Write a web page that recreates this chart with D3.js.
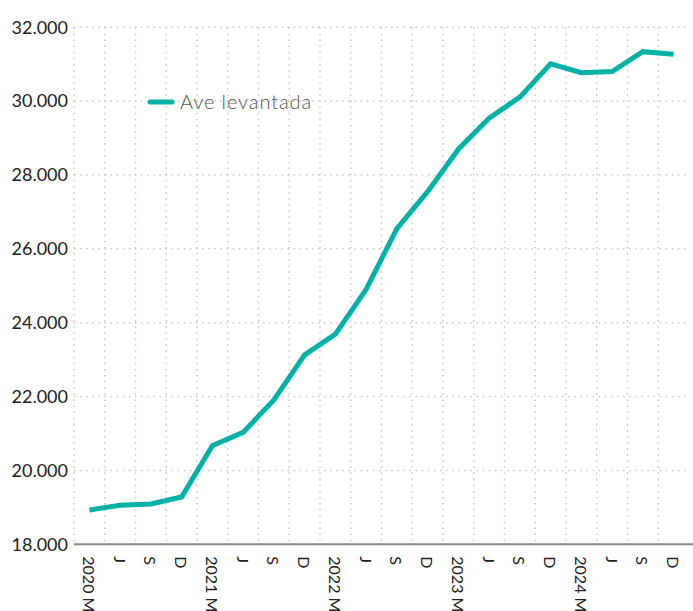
<!DOCTYPE html>
<html>
<head>
<meta charset="utf-8">
<script src="https://cdn.jsdelivr.net/npm/d3@7/dist/d3.min.js"></script>
<style>
  html, body { margin: 0; padding: 0; background: #fff; }
  svg { display: block; }
  text { font-family: Lato, "Noto Sans", sans-serif; }
</style>
</head>
<body>
<svg id="chart" width="693" height="611"></svg>
<script>
const categories = ["2020 M","J","S","D","2021 M","J","S","D","2022 M","J","S","D","2023 M","J","S","D","2024 M","J","S","D"];
const seriesName = "Ave levantada";
const values = [18930, 19060, 19090, 19280, 20670, 21030, 21910, 23130, 23690, 24900, 26550, 27550, 28700, 29540, 30110, 31010, 30770, 30800, 31340, 31270];
const yTicks = [18000, 20000, 22000, 24000, 26000, 28000, 30000, 32000];

const svg = d3.select("#chart");
const mLeft = 74, mRight = 689, mTop = 27.3, mBottom = 544.3;
const ids = categories.map((c, i) => i);

const x = d3.scaleBand().domain(ids).range([mLeft, mRight]).padding(0);
const y = d3.scaleLinear().domain([18000, 32000]).range([mBottom, mTop]);

const grid = svg.append("g").attr("stroke", "#c8c8c8").attr("stroke-width", 1.5)
  .attr("stroke-dasharray", "1.5,4.6");
grid.selectAll("line.h").data(yTicks.filter(t => t !== 18000)).join("line")
  .attr("class", "h")
  .attr("x1", mLeft).attr("x2", mRight)
  .attr("y1", d => y(d)).attr("y2", d => y(d));
grid.selectAll("line.v").data(ids).join("line")
  .attr("class", "v")
  .attr("x1", d => x(d)).attr("x2", d => x(d))
  .attr("y1", mTop).attr("y2", mBottom);

const yAxis = d3.axisLeft(y).tickValues(yTicks).tickSize(0).tickPadding(6)
  .tickFormat(d => d3.format(",")(d).replace(/,/g, "."));
const gy = svg.append("g").attr("transform", `translate(${mLeft},0)`).call(yAxis);
gy.select(".domain").remove();
gy.selectAll("text").attr("font-size", 18).attr("fill", "#222")
  .attr("font-family", "Lato, 'Noto Sans', sans-serif");

svg.append("line").attr("x1", mLeft).attr("x2", 693)
  .attr("y1", mBottom).attr("y2", mBottom)
  .attr("stroke", "#888").attr("stroke-width", 2);

const xAxis = d3.axisBottom(x).tickSize(0).tickFormat(i => categories[i]);
const gx = svg.append("g").attr("transform", `translate(0,${mBottom})`).call(xAxis);
gx.select(".domain").remove();
gx.selectAll("text")
  .attr("font-size", 16).attr("fill", "#222")
  .attr("font-family", "Lato, 'Noto Sans', sans-serif")
  .attr("text-anchor", "start")
  .attr("dy", "0.35em")
  .attr("transform", "translate(-1,12) rotate(90)")
  .attr("x", 0).attr("y", 0);

const line = d3.line().x((d, i) => x(i) + x.bandwidth() / 2).y(d => y(d));
svg.append("path").datum(values)
  .attr("d", line)
  .attr("fill", "none").attr("stroke", "#00b2a6").attr("stroke-width", 5)
  .attr("stroke-linejoin", "miter");

svg.append("line").attr("x1", 150).attr("x2", 172).attr("y1", 102).attr("y2", 102)
  .attr("stroke", "#00b2a6").attr("stroke-width", 5).attr("stroke-linecap", "round");
svg.append("text").attr("x", 180).attr("y", 109).text(seriesName)
  .attr("font-size", 20).attr("font-weight", 300).attr("letter-spacing", 0.9)
  .attr("fill", "#555");
</script>
</body>
</html>
